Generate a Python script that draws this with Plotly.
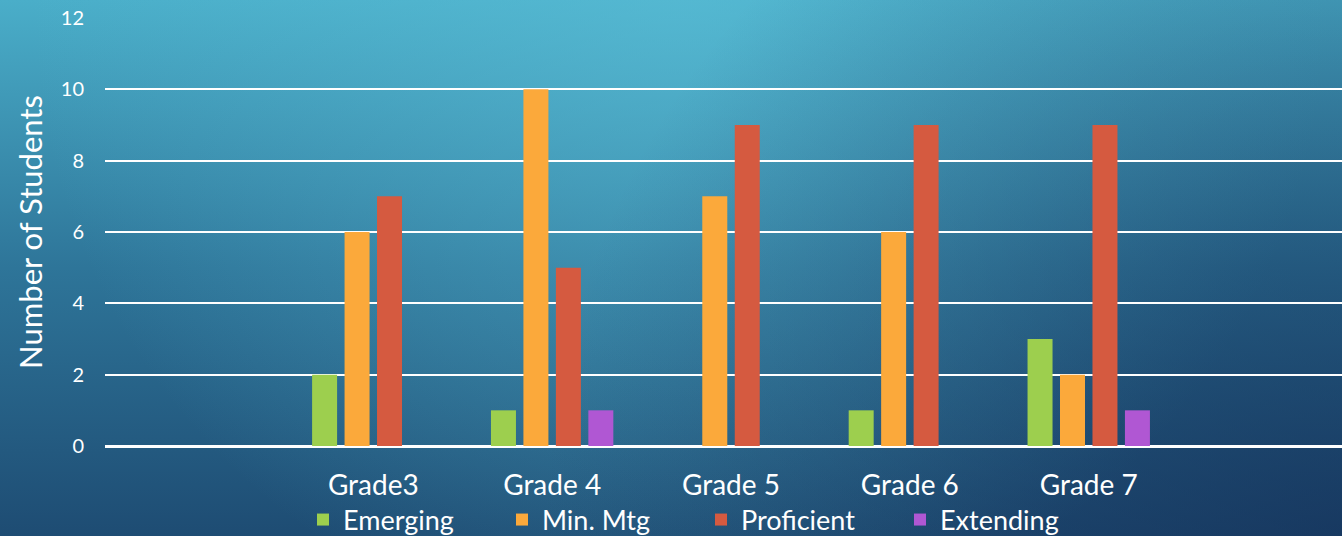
import base64
import plotly.graph_objects as go

grades = ["Grade3", "Grade 4", "Grade 5", "Grade 6", "Grade 7"]
emerging = [2, 1, 0, 1, 3]
min_mtg = [6, 10, 7, 6, 2]
proficient = [7, 5, 9, 9, 9]
extending = [0, 1, 0, 0, 1]

series = [
    ("Emerging", emerging, "#9DCF4E"),
    ("Min. Mtg", min_mtg, "#FBA93B"),
    ("Proficient", proficient, "#D55A40"),
    ("Extending", extending, "#B057D3"),
]

# background gradient as an svg image stretched over the whole figure
svg = """<svg xmlns='http://www.w3.org/2000/svg' width='1342' height='536' viewBox='0 0 1342 536' preserveAspectRatio='none'>
<defs>
<linearGradient id='v' x1='0' y1='0' x2='0' y2='1'>
<stop offset='0' stop-color='#4AAEC9'/>
<stop offset='0.5' stop-color='#2E7599'/>
<stop offset='1' stop-color='#1E4C73'/>
</linearGradient>
<radialGradient id='h' gradientUnits='userSpaceOnUse' cx='680' cy='0' r='650'>
<stop offset='0' stop-color='#5CC0D8' stop-opacity='0.55'/>
<stop offset='1' stop-color='#5CC0D8' stop-opacity='0'/>
</radialGradient>
<radialGradient id='d' gradientUnits='userSpaceOnUse' cx='1342' cy='536' r='800'>
<stop offset='0' stop-color='#132C55' stop-opacity='0.6'/>
<stop offset='1' stop-color='#132C55' stop-opacity='0'/>
</radialGradient>
</defs>
<rect width='1342' height='536' fill='url(#v)'/>
<rect width='1342' height='536' fill='url(#h)'/>
<rect width='1342' height='536' fill='url(#d)'/>
</svg>"""
bg = "data:image/svg+xml;base64," + base64.b64encode(svg.encode()).decode()

fig = go.Figure()
for name, vals, col in series:
    fig.add_trace(go.Bar(
        x=grades, y=vals, name=name,
        marker=dict(color=col, line=dict(width=0)),
    ))

W, H = 1342, 536
ml, mr, mt, mb = 105, 0, 18, 90
pw, ph = W - ml - mr, H - mt - mb

fig.update_layout(
    width=W, height=H,
    margin=dict(l=ml, r=mr, t=mt, b=mb, autoexpand=False),
    barmode="group", bargap=0.274, bargroupgap=0.23,
    paper_bgcolor="#1E4C73", plot_bgcolor="rgba(0,0,0,0)",
    font=dict(family="Lato", color="white"),
    showlegend=True,
    legend=dict(
        orientation="h", x=(701 - ml) / pw, xanchor="center",
        y=-(520 - 446) / ph, yanchor="middle",
        font=dict(size=27, color="white"),
        entrywidth=154, entrywidthmode="pixels",
        bgcolor="rgba(0,0,0,0)",
    ),
    images=[dict(
        source=bg, xref="paper", yref="paper",
        x=-ml / pw, y=1 + mt / ph, sizex=W / pw, sizey=H / ph,
        xanchor="left", yanchor="top", sizing="stretch", layer="below",
    )],
)
fig.update_xaxes(
    range=[-1.5, 5.416], showgrid=False, zeroline=False, showline=False,
    tickfont=dict(size=28, color="white"), ticklabelstandoff=20,
    automargin=False,
)
fig.update_yaxes(
    range=[0, 12], dtick=2, showgrid=True, gridcolor="white", gridwidth=2,
    zeroline=True, zerolinecolor="white", zerolinewidth=3,
    tickfont=dict(size=20, color="white"), ticklabelstandoff=20,
    title=dict(text="Number of Students", font=dict(size=31, color="white"), standoff=8),
    automargin=False,
)

fig.write_html("out.html", config={"displayModeBar": False},
               post_script="document.body.style.margin='0';")
